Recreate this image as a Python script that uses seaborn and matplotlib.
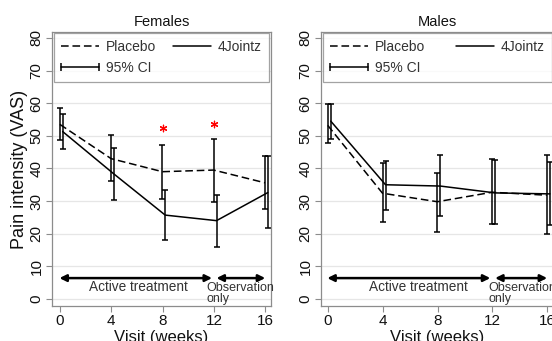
import numpy as np
import pandas as pd
import seaborn as sns
import matplotlib.pyplot as plt
from matplotlib.lines import Line2D
from matplotlib.legend_handler import HandlerLine2D

visits = [0, 4, 8, 12, 16]

# Females
f_placebo = [53.5, 43.0, 39.0, 39.5, 35.6]
f_placebo_lo = [48.8, 36.1, 30.7, 29.8, 27.5]
f_placebo_hi = [58.6, 50.1, 47.3, 49.1, 43.8]
f_joint = [51.3, 38.3, 25.7, 24.0, 32.6]
f_joint_lo = [46.0, 30.3, 18.0, 15.9, 21.8]
f_joint_hi = [56.7, 46.2, 33.4, 31.8, 43.9]
f_star_x = [8, 12]
f_star_y = [52.4, 53.5]

# Males
m_placebo = [53.2, 32.4, 29.8, 32.7, 31.8]
m_placebo_lo = [47.9, 23.7, 20.6, 23.1, 19.8]
m_placebo_hi = [59.8, 41.7, 38.7, 42.8, 44.0]
m_joint = [54.5, 35.0, 34.6, 32.5, 32.2]
m_joint_lo = [49.1, 27.4, 25.4, 22.9, 22.6]
m_joint_hi = [59.8, 42.4, 44.0, 42.6, 42.0]

sns.set_theme(style="white")
plt.rcParams['font.family'] = ['Liberation Sans', 'DejaVu Sans']

fig = plt.figure(figsize=(5.52, 3.41), dpi=100)
ax_f = fig.add_axes([52 / 552, 1 - 306 / 341, 219 / 552, 274 / 341])
ax_m = fig.add_axes([321 / 552, 1 - 306 / 341, 233 / 552, 274 / 341])

# axes, title, data..., xlim, "Active treatment" x, "Observation" x
panels = [
    (ax_f, "Females", f_placebo, f_placebo_lo, f_placebo_hi, f_joint, f_joint_lo, f_joint_hi, (-0.63, 16.45), 6.1, 11.4),
    (ax_m, "Males", m_placebo, m_placebo_lo, m_placebo_hi, m_joint, m_joint_lo, m_joint_hi, (-0.51, 16.5), 6.6, 11.7),
]

grey = '#8c8c8c'
dash = (5, 2.5)
for ax, title, pl, pl_lo, pl_hi, jt, jt_lo, jt_hi, xlim, txt_x, obs_x in panels:
    df = pd.DataFrame({
        'visit': list(np.array(visits) - 0.02) + list(np.array(visits) + 0.2),
        'pain': pl + jt,
        'group': ['Placebo'] * 5 + ['4Jointz'] * 5,
    })
    for y in range(0, 90, 10):
        ax.axhline(y, color='#e6e6e6', lw=0.9, zorder=0)
    sns.lineplot(data=df, x='visit', y='pain', style='group', color='black',
                 dashes={'Placebo': dash, '4Jointz': ''}, lw=1.1,
                 legend=False, ax=ax)
    for g, lo, hi in [('Placebo', pl_lo, pl_hi), ('4Jointz', jt_lo, jt_hi)]:
        sub = df[df['group'] == g]
        ax.errorbar(sub['visit'], (np.array(lo) + np.array(hi)) / 2,
                    yerr=(np.array(hi) - np.array(lo)) / 2, fmt='none',
                    ecolor='black', elinewidth=1.1, capsize=2.5, capthick=1.1)

    # treatment period arrows
    ax.annotate('', xy=(-0.05, 6.4), xytext=(11.85, 6.4),
                arrowprops=dict(arrowstyle='<|-|>', color='black', lw=1.8,
                                mutation_scale=10, shrinkA=0, shrinkB=0))
    ax.annotate('', xy=(12.2, 6.4), xytext=(16.0, 6.4),
                arrowprops=dict(arrowstyle='<|-|>', color='black', lw=1.8,
                                mutation_scale=10, shrinkA=0, shrinkB=0))
    ax.text(txt_x, 3.8, 'Active treatment', ha='center', va='center',
            fontsize=9.8, color='#333333')
    ax.text(obs_x, 1.8, 'Observation\nonly', ha='left', va='center',
            fontsize=9, color='#333333', linespacing=0.9)

    ax.set_xlim(*xlim)
    ax.set_ylim(-2.15, 81.8)
    ax.set_xticks(visits)
    ax.set_yticks(range(0, 90, 10))
    ax.set_yticklabels([str(v) for v in range(0, 90, 10)], rotation=90, va='center')
    ax.tick_params(axis='both', which='both', length=4, width=0.8, color=grey,
                   labelsize=11, labelcolor='#111111', pad=2,
                   left=True, bottom=True)
    for s in ax.spines.values():
        s.set_color(grey)
        s.set_linewidth(0.9)
    ax.set_title(title, fontsize=10.5, pad=4, color='#111111')
    ax.set_xlabel('Visit (weeks)', fontsize=12, labelpad=1.5, color='#111111')
    ax.set_ylabel('')

    # legend: column-major fill -> Placebo / 4Jointz on row 1, 95% CI on row 2
    h_pl = Line2D([], [], color='black', lw=1.1, dashes=dash)
    h_jt = Line2D([], [], color='black', lw=1.1)
    h_ci = Line2D([], [], color='black', lw=1.1, marker='|', markersize=6,
                  markeredgewidth=1.1)
    leg = ax.legend([h_pl, h_ci, h_jt], ['Placebo', '95% CI', '4Jointz'],
                    ncol=2, loc='upper left', bbox_to_anchor=(0.01, 0.995, 0.98, 0.0),
                    mode='expand', frameon=True, fancybox=False, fontsize=10,
                    handlelength=2.7, handletextpad=0.5, borderpad=0.5,
                    labelspacing=0.45, columnspacing=1.0, borderaxespad=0.0,
                    handler_map={h_ci: HandlerLine2D(marker_pad=0.0, numpoints=2)})
    leg.get_frame().set_edgecolor(grey)
    leg.get_frame().set_linewidth(0.9)
    for t in leg.get_texts():
        t.set_color('#333333')

ax_f.scatter(f_star_x, f_star_y, marker=(6, 2, 0), s=22, color='red', lw=0.9, zorder=5)
ax_f.set_ylabel('Pain intensity (VAS)', fontsize=13, labelpad=1, color='#111111')

fig.savefig('out.png', dpi=100)
